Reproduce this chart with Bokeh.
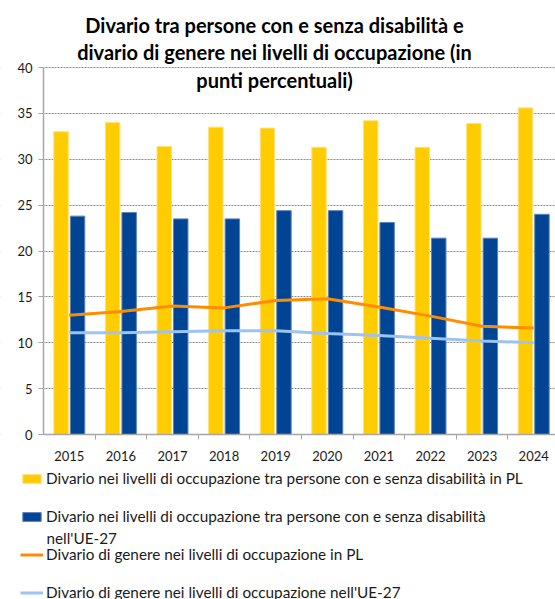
from bokeh.plotting import figure
from bokeh.models import (ColumnDataSource, FixedTicker, Legend, LegendItem, Label,
                          BoxAnnotation)
from bokeh.embed import file_html
from bokeh.resources import INLINE

years = ["2015", "2016", "2017", "2018", "2019", "2020", "2021", "2022", "2023", "2024"]
disab_pl = [33.0, 34.0, 31.4, 33.5, 33.4, 31.3, 34.2, 31.3, 33.9, 35.6]
disab_eu = [23.8, 24.2, 23.5, 23.5, 24.4, 24.4, 23.1, 21.4, 21.4, 24.0]
gender_pl = [13.0, 13.4, 14.0, 13.8, 14.6, 14.8, 13.9, 12.9, 11.8, 11.6]
gender_eu = [11.1, 11.1, 11.2, 11.3, 11.3, 11.0, 10.8, 10.5, 10.2, 10.0]
y_ticks = [0, 5, 10, 15, 20, 25, 30, 35, 40]

title_lines = ["Divario tra persone con e senza disabilità e",
               "divario di genere nei livelli di occupazione (in",
               "punti percentuali)"]
labels = ["Divario nei livelli di occupazione tra persone con e senza disabilità in PL",
          "Divario nei livelli di occupazione tra persone con e senza disabilità",
          "Divario di genere nei livelli di occupazione in PL",
          "Divario di genere nei livelli di occupazione nell'UE-27"]
label2_cont = "nell'UE-27"

FONT = "Lato"
YELLOW = "#FFCC00"
BLUE = "#004494"
ORANGE = "#FF8C00"
LBLUE = "#9DC3F5"
YEDGE = "#FFE27A"
BEDGE = "#5B82BD"

idx = list(range(len(years)))
src = ColumnDataSource(dict(
    x=idx,
    xa=[i - 0.16 for i in idx],
    xb=[i + 0.16 for i in idx],
    pl=disab_pl, eu=disab_eu, gpl=gender_pl, geu=gender_eu))

# The frame fills the whole canvas; axes sit at fixed positions inside it so that
# the title and legend (which overlap/extend past the plot area) are not clipped.
W, H = 555, 599
PX_X, PX_Y = 51.6, 9.175          # pixels per category / per percentage point
AX_LEFT, AX_BOTTOM = 43, 434      # pixel position of the axes
x0 = -0.5 - AX_LEFT / PX_X
y0 = -(H - AX_BOTTOM) / PX_Y
p = figure(width=W, height=H, x_range=(x0, x0 + W / PX_X), y_range=(y0, y0 + H / PX_Y),
           output_backend="svg", toolbar_location=None,
           min_border=0, min_border_left=0, min_border_right=0,
           min_border_top=0, min_border_bottom=0)
p.outline_line_color = None
p.background_fill_color = "white"
p.border_fill_color = "white"

p.ygrid.ticker = FixedTicker(ticks=y_ticks)
p.ygrid.grid_line_color = "#8c8c8c"
p.ygrid.grid_line_dash = "2 1"
p.ygrid.grid_line_width = 1
p.xgrid.grid_line_color = None
# keep the grid lines from running left of the y axis
p.add_layout(BoxAnnotation(right=-0.5, fill_color="white", fill_alpha=1,
                           line_color=None, level="underlay"))

r1 = p.vbar(x="xa", top="pl", width=0.28, source=src, fill_color=YELLOW,
            line_color=YEDGE, line_width=1)
r2 = p.vbar(x="xb", top="eu", width=0.28, source=src, fill_color=BLUE,
            line_color=BEDGE, line_width=1)
r3 = p.line(x="x", y="gpl", source=src, line_color=ORANGE, line_width=3)
r4 = p.line(x="x", y="geu", source=src, line_color=LBLUE, line_width=3)

xa = p.xaxis[0]
xa.fixed_location = 0
xa.bounds = (-0.5, x0 + W / PX_X)
xa.ticker = FixedTicker(ticks=idx, minor_ticks=[i + 0.5 for i in idx[:-1]])
xa.major_label_overrides = {i: y for i, y in zip(idx, years)}
xa.major_tick_out = 0
xa.major_tick_in = 0
xa.minor_tick_out = 5
xa.minor_tick_in = 0
xa.minor_tick_line_color = "#a6a6a6"
xa.axis_line_color = "#a6a6a6"
xa.axis_line_width = 1.5
xa.major_label_standoff = 11
xa.major_label_text_font = FONT
xa.major_label_text_font_size = "13px"
xa.major_label_text_color = "#1a1a1a"

ya = p.yaxis[0]
ya.fixed_location = -0.5
ya.ticker = FixedTicker(ticks=y_ticks)
ya.bounds = (0, 40)
ya.major_tick_out = 5
ya.major_tick_in = 0
ya.minor_tick_line_color = None
ya.major_tick_line_color = "#a6a6a6"
ya.axis_line_color = "#a6a6a6"
ya.axis_line_width = 1.5
ya.major_label_standoff = 6
ya.major_label_text_font = FONT
ya.major_label_text_font_size = "13px"
ya.major_label_text_color = "#1a1a1a"

for line, yy in zip(title_lines, [575, 547.5, 520]):
    p.add_layout(Label(x=274, y=yy, x_units="screen", y_units="screen", text=line,
                       text_align="center", text_baseline="alphabetic",
                       text_font=FONT, text_font_style="bold", text_font_size="20px",
                       text_color="#000000"))

LX = 20
def make_legend(label, rend, loc):
    lg = Legend(items=[LegendItem(label=label, renderers=[rend])], location=loc,
                orientation="vertical", padding=0, margin=0, spacing=0,
                border_line_color=None, background_fill_alpha=0,
                glyph_width=23, glyph_height=11, label_standoff=3,
                label_height=20, label_text_font=FONT, label_text_font_size="15.3px",
                label_text_color="#1a1a1a")
    p.add_layout(lg, "center")

make_legend(labels[0], r1, (LX, 111))
make_legend(labels[1], r2, (LX, 73))
make_legend(labels[2], r3, (LX, 35))
make_legend(labels[3], r4, (LX, -3))
p.add_layout(Label(x=LX + 26, y=62, x_units="screen", y_units="screen", text=label2_cont,
                   text_baseline="middle", text_font=FONT, text_font_size="15.3px",
                   text_color="#1a1a1a"))

open("out.html", "w").write(file_html(p, INLINE))
